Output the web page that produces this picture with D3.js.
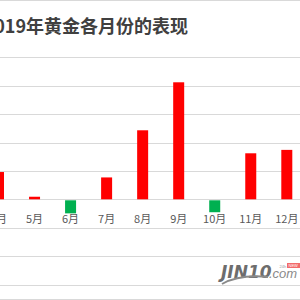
<!DOCTYPE html>
<html>
<head>
<meta charset="utf-8">
<script src="https://cdn.jsdelivr.net/npm/d3@7"></script>
<style>
  html, body { margin: 0; padding: 0; background: #fff; }
  svg { display: block; }
</style>
</head>
<body>
<svg id="chart" width="300" height="300"></svg>
<script>
// Months visible in the crop and their change, in gridline units
var months = ['4月', '5月', '6月', '7月', '8月', '9月', '10月', '11月', '12月'];
var changes = [0.96, 0.09, -0.46, 0.77, 2.43, 4.12, -0.42, 1.62, 1.74];
var gridTicks = [-4, -3, -2, -1, 0, 1, 2, 3, 4, 5];
var title = '2019年黄金各月份的表现';

var svg = d3.select('#chart');

var x = d3.scalePoint().domain(months).range([-1.5, 286.8]);
var y = d3.scaleLinear().domain([-4, 5]).range([312.9, 57.3]);
var barWidth = 11;

// frame lines
svg.append('line').attr('x1', 0).attr('x2', 300).attr('y1', 0.5).attr('y2', 0.5)
  .attr('stroke', '#d9d9d9');
svg.append('line').attr('x1', 0).attr('x2', 300).attr('y1', 299.5).attr('y2', 299.5)
  .attr('stroke', '#d9d9d9');

// gridlines
svg.append('g')
  .selectAll('line')
  .data(gridTicks)
  .enter().append('line')
  .attr('x1', 0).attr('x2', 300)
  .attr('y1', function (d) { return Math.round(y(d)) + 0.5; })
  .attr('y2', function (d) { return Math.round(y(d)) + 0.5; })
  .attr('stroke', '#d9d9d9')
  .attr('stroke-width', 1.2);

// bars
svg.append('g')
  .selectAll('rect')
  .data(changes)
  .enter().append('rect')
  .attr('x', function (d, i) { return x(months[i]) - barWidth / 2; })
  .attr('width', barWidth)
  .attr('y', function (d) { return d >= 0 ? y(d) : y(0) + 1; })
  .attr('height', function (d) { return Math.abs(y(d) - y(0)); })
  .attr('fill', function (d) { return d >= 0 ? '#ff0000' : '#00b050'; });

// category labels
svg.append('g')
  .selectAll('text')
  .data(months)
  .enter().append('text')
  .attr('x', function (d) { return x(d); })
  .attr('y', 222.5)
  .attr('text-anchor', 'middle')
  .attr('font-family', '"Noto Sans CJK SC", sans-serif')
  .attr('font-size', '11px')
  .attr('fill', '#595959')
  .text(function (d) { return d; });

// title
svg.append('text')
  .attr('x', 188)
  .attr('y', 33)
  .attr('text-anchor', 'end')
  .attr('font-family', '"Noto Sans CJK SC", sans-serif')
  .attr('font-weight', 'bold')
  .attr('font-size', '18px')
  .attr('fill', '#404040')
  .text(title);

// watermark
var wm = svg.append('g');
wm.append('text')
  .attr('x', 221).attr('y', 278)
  .attr('font-family', '"DejaVu Sans", sans-serif')
  .attr('font-weight', 'bold')
  .attr('font-style', 'italic')
  .attr('font-size', '17px')
  .attr('fill', '#6d6d6d')
  .text('JIN10');
wm.append('text')
  .attr('x', 269).attr('y', 278)
  .attr('font-family', '"Liberation Sans", sans-serif')
  .attr('font-style', 'italic')
  .attr('font-size', '13px')
  .attr('fill', '#8a8a8a')
  .text('.com');
wm.append('path')
  .attr('d', 'M222,284 Q240,274 268,277')
  .attr('fill', 'none')
  .attr('stroke', '#8a8a8a')
  .attr('stroke-width', 2);
wm.append('rect')
  .attr('x', 287).attr('y', 263).attr('width', 14).attr('height', 5)
  .attr('fill', '#f26b6b');
wm.append('text')
  .attr('x', 279.5).attr('y', 267.5)
  .attr('font-family', '"Liberation Sans", sans-serif')
  .attr('font-size', '4px')
  .attr('fill', '#999')
  .text('24h');
wm.append('text')
  .attr('x', 288.5).attr('y', 267.3)
  .attr('font-family', '"Liberation Sans", sans-serif')
  .attr('font-size', '4px')
  .attr('fill', '#fff')
  .text('NEW');
</script>
</body>
</html>
